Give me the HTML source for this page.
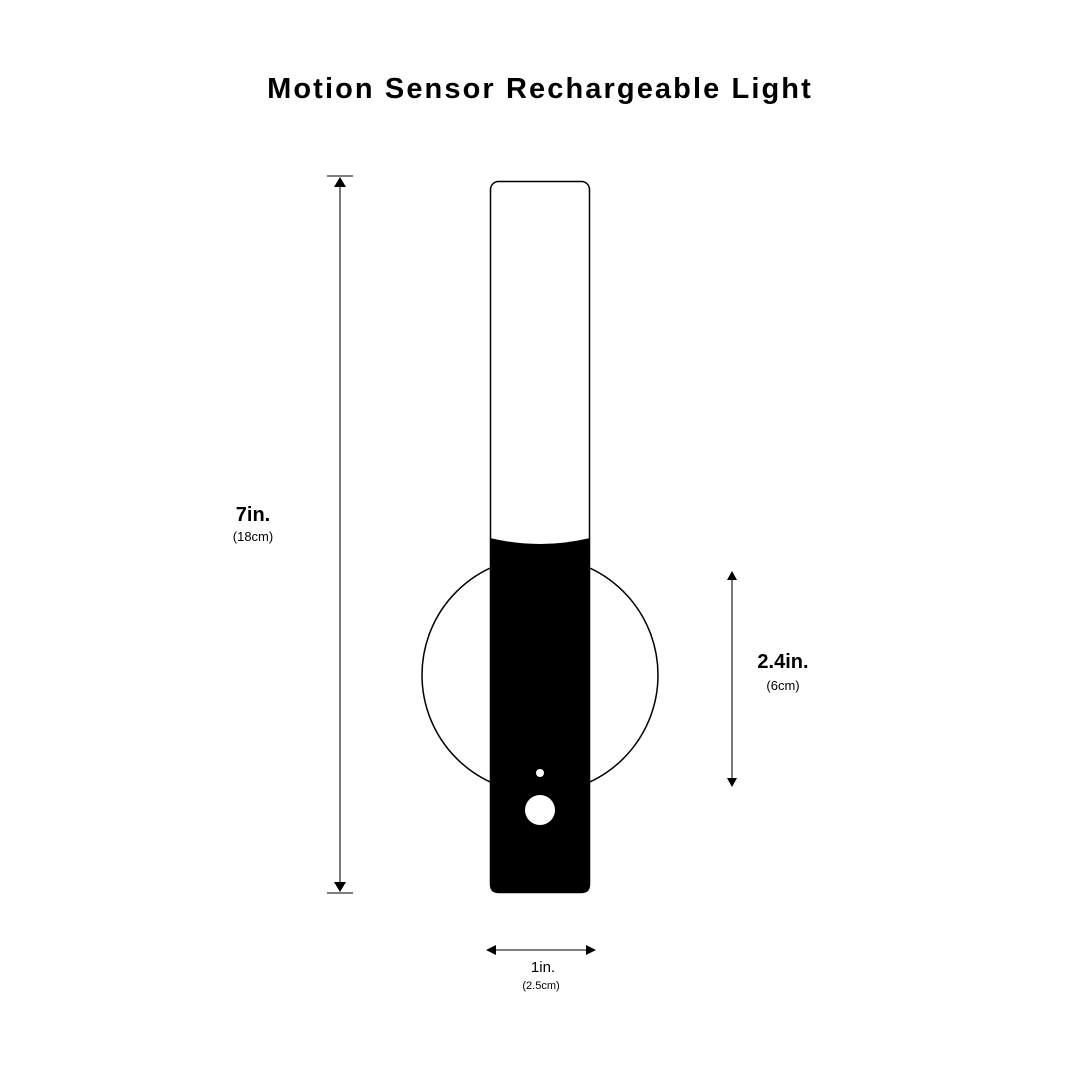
<!DOCTYPE html>
<html><head><style>
body{margin:0;background:#fff;}
svg{display:block;font-family:"Liberation Sans",Arial,sans-serif;}
</style></head><body>
<svg width="1080" height="1080" viewBox="0 0 1080 1080">
<rect width="1080" height="1080" fill="#fff"/>
<text x="540" y="98" text-anchor="middle" font-size="29" font-weight="bold" letter-spacing="2.1">Motion Sensor Rechargeable Light</text>
<circle cx="540" cy="675" r="118" fill="none" stroke="#000" stroke-width="1.5"/>
<rect x="490.5" y="181.5" width="99" height="711" rx="8" fill="#fff" stroke="#000" stroke-width="1.5"/>
<path d="M490 538 Q540 550 590 538 L590 885 Q590 893 582 893 L498 893 Q490 893 490 885 Z" fill="#000"/>
<circle cx="540" cy="773" r="4" fill="#fff"/>
<circle cx="540" cy="810" r="15" fill="#fff"/>
<g stroke="#333" stroke-width="1.3">
<line x1="327" y1="176" x2="353" y2="176"/><line x1="327" y1="893" x2="353" y2="893"/>
<line x1="340" y1="184" x2="340" y2="885"/>
<line x1="732" y1="578" x2="732" y2="780"/>
<line x1="494" y1="950" x2="588" y2="950"/>
</g>
<g fill="#000">
<polygon points="340,177 334,187 346,187"/><polygon points="340,892 334,882 346,882"/>
<polygon points="732,571 727,580 737,580"/><polygon points="732,787 727,778 737,778"/>
<polygon points="486,950 496,945 496,955"/><polygon points="596,950 586,945 586,955"/>
</g>
<text x="253" y="521" text-anchor="middle" font-size="20" font-weight="bold">7in.</text>
<text x="253" y="541" text-anchor="middle" font-size="13">(18cm)</text>
<text x="783" y="668" text-anchor="middle" font-size="20" font-weight="bold">2.4in.</text>
<text x="783" y="690" text-anchor="middle" font-size="13">(6cm)</text>
<text x="543" y="972" text-anchor="middle" font-size="15">1in.</text>
<text x="541" y="989" text-anchor="middle" font-size="11">(2.5cm)</text>
</svg>
</body></html>
